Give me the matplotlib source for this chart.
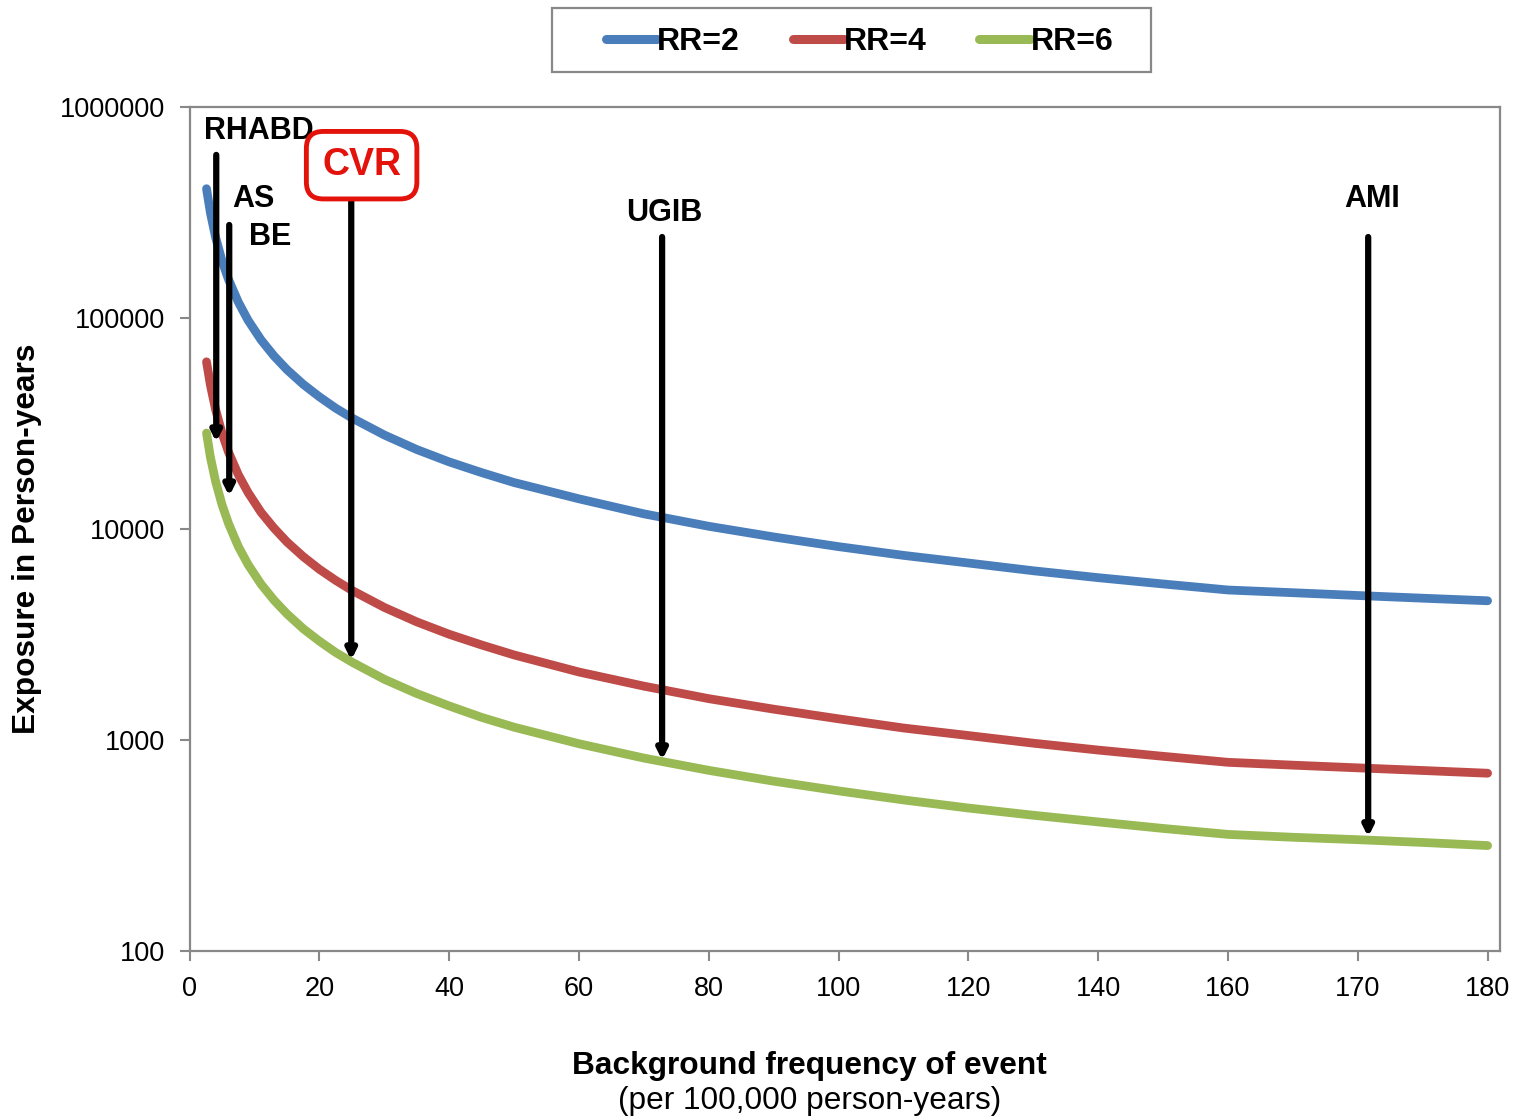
import numpy as np
import matplotlib
matplotlib.use('Agg')
import matplotlib.pyplot as plt
from matplotlib.patches import Rectangle

plt.rcParams['font.family'] = ['Liberation Sans', 'DejaVu Sans']

# Background frequency (per 100,000 person-years), as placed on the chart
freq = [2.6, 3.2, 4, 5, 6, 7.5, 9, 11, 13, 15, 17.5, 20, 22.5, 25, 30, 35, 40,
        45, 50, 60, 70, 80, 90, 100, 110, 120, 130, 140, 150, 160, 165, 170,
        175, 180]

# Exposure in person-years
rr2 = [410000, 315000, 241000, 186000, 152000, 119000, 97600, 78800, 66100,
       56900, 48500, 42300, 37400, 33600, 27900, 23800, 20800, 18500, 16600,
       13900, 11800, 10300, 9170, 8250, 7500, 6900, 6340, 5880, 5490, 5140,
       4990, 4840, 4700, 4570]
rr4 = [62000, 48100, 36800, 28400, 23100, 18100, 14900, 12000, 10100, 8680,
       7400, 6440, 5710, 5120, 4250, 3630, 3170, 2820, 2530, 2100, 1800, 1570,
       1400, 1260, 1140, 1050, 966, 896, 837, 784, 760, 738, 717, 696]
rr6 = [28500, 21900, 16800, 13000, 10600, 8260, 6790, 5480, 4600, 3960, 3370,
       2940, 2600, 2340, 1940, 1660, 1450, 1280, 1150, 960, 821, 718, 638, 574,
       520, 476, 440, 409, 381, 357, 346, 337, 327, 316]

series = ['RR=2', 'RR=4', 'RR=6']
colors = ['#4A7EBB', '#BE4B48', '#98B954']

x_ticks = [0, 20, 40, 60, 80, 100, 120, 140, 160, 170, 180]
y_ticks = [100, 1000, 10000, 100000, 1000000]

# events: label, x, arrow tip, arrow tail, text x, text y
events = [
    ('RHABD', 4.1, 25800, 593000, 10.7, 770000),
    ('AS', 6.1, 14300, 276000, 9.8, 366000),
    ('UGIB', 72.8, 803, 242000, 73.1, 315000),
    ('AMI', 170.8, 347, 242000, 171.1, 366000),
]


# the axis is spaced evenly per label, so 160 -> 180 takes twice the room
def fwd(x):
    x = np.asarray(x, dtype=float)
    return np.where(x <= 160, x, 160 + 2 * (x - 160))


def inv(p):
    p = np.asarray(p, dtype=float)
    return np.where(p <= 160, p, 160 + (p - 160) / 2)


fig = plt.figure(figsize=(15.22, 11.17), dpi=100)
ax = fig.add_axes([0.1246, 0.1486, 0.8609, 0.7556])

for name, vals, c in zip(series, [rr2, rr4, rr6], colors):
    ax.plot(freq, vals, color=c, lw=6.3, solid_capstyle='round',
            solid_joinstyle='round', label=name, zorder=2)

ax.set_xscale('function', functions=(fwd, inv))
ax.set_yscale('log')
ax.set_xlim(0, 180.95)
ax.set_ylim(100, 1000000)
ax.set_xticks(x_ticks)
ax.set_xticklabels([str(t) for t in x_ticks])
ax.set_yticks(y_ticks)
ax.set_yticklabels([str(t) for t in y_ticks])
ax.minorticks_off()
ax.tick_params(axis='both', labelsize=19.5, colors='#888888', length=7,
               width=1.5, labelcolor='black', pad=11)

for s in ax.spines.values():
    s.set_color('#888888')
    s.set_linewidth(1.6)

# arrows and labels
for name, x, tip, tail, tx, ty in events:
    ax.annotate('', xy=(x, tip), xytext=(x, tail),
                arrowprops=dict(arrowstyle='-|>', color='black', lw=4.5,
                                mutation_scale=14, shrinkA=0, shrinkB=0),
                zorder=4)
    ax.text(tx, ty, name, ha='center', va='center', fontsize=22,
            fontweight='bold', zorder=3)

ax.text(12.4, 242000, 'BE', ha='center', va='center', fontsize=22,
        fontweight='bold', zorder=3)

# CVR with red box
ax.annotate('', xy=(24.9, 2390), xytext=(24.9, 374000),
            arrowprops=dict(arrowstyle='-|>', color='black', lw=4.5,
                            mutation_scale=14, shrinkA=0, shrinkB=0),
            zorder=4)
ax.text(26.5, 530000, 'CVR', ha='center', va='center', fontsize=27,
        fontweight='bold', color='#E3120B', zorder=5,
        bbox=dict(boxstyle='round,pad=0.42,rounding_size=0.45', fc='white',
                  ec='#E3120B', lw=3.5))

fig.text(0.0177, 0.5175, 'Exposure in Person-years', rotation=90,
         ha='center', va='center', fontsize=22.8, fontweight='bold')
fig.text(0.532, 0.046, 'Background frequency of event', ha='center',
         va='center', fontsize=22.8, fontweight='bold')
fig.text(0.532, 0.014, '(per 100,000 person-years)', ha='center',
         va='center', fontsize=22.8)

leg = fig.legend(loc='center', bbox_to_anchor=(0.5648, 0.962), ncol=3,
                 prop={'weight': 'bold', 'size': 23},
                 frameon=False, handlelength=1.6,
                 handletextpad=0.0, columnspacing=1.65)
for line in leg.get_lines():
    line.set_linewidth(6.5)
fig.patches.append(Rectangle((0.3627, 0.9355), 0.3936, 0.0573,
                             transform=fig.transFigure, fill=False,
                             ec='#888888', lw=1.6))

plt.savefig('out.png', dpi=100)
